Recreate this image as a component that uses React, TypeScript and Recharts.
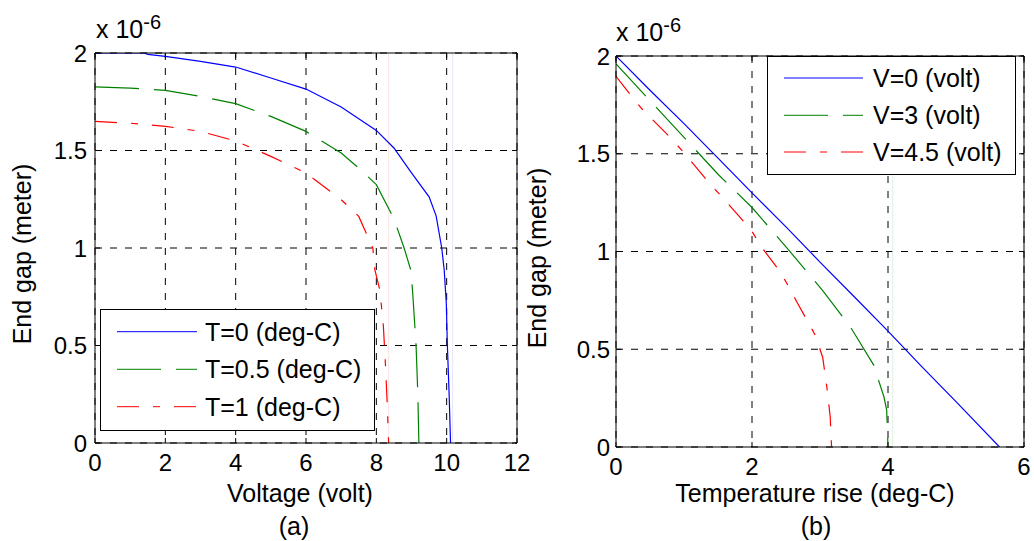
import React from "react";
import { LineChart, Line, XAxis, YAxis, CartesianGrid, Legend, ReferenceLine } from "recharts";

const FONT = "'Liberation Sans', Arial, Helvetica, sans-serif";

// end gap is in units of 1e-6 m on both panels
const gapTicks = [0, 0.5, 1, 1.5, 2];

// (a) end gap vs voltage, one curve per temperature rise
const voltTicks = [0, 2, 4, 6, 8, 10, 12];
const voltT0 = [0, 1.4, 1.5, 2, 3, 4, 5, 6, 7, 8, 8.5, 9, 9.5, 9.7, 9.86, 9.93, 9.99, 10.02, 10.07, 10.11];
const gapT0 = [2.0, 2.0, 1.993, 1.983, 1.957, 1.928, 1.872, 1.815, 1.723, 1.603, 1.513, 1.385, 1.262, 1.165, 1.0, 0.887, 0.715, 0.5, 0.25, 0];
const voltT05 = [0, 1, 2, 3, 4, 5, 6, 7, 7.5, 8, 8.5, 8.79, 8.98, 9.03, 9.13, 9.18, 9.21];
const gapT05 = [1.826, 1.82, 1.808, 1.777, 1.74, 1.675, 1.598, 1.487, 1.41, 1.325, 1.15, 1.0, 0.887, 0.78, 0.5, 0.25, 0];
const voltT1 = [0, 1, 2, 3, 4, 5, 6, 7, 7.5, 7.8, 7.9, 7.96, 8.1, 8.2, 8.26, 8.31, 8.35];
const gapT1 = [1.649, 1.64, 1.624, 1.598, 1.549, 1.47, 1.385, 1.248, 1.162, 1.04, 1.0, 0.887, 0.785, 0.6, 0.4, 0.2, 0];
const faintA = [
  { x: 8.35, color: "#fae4e4" },
  { x: 10.17, color: "#e6e6fa" },
];

// (b) end gap vs temperature rise, one curve per voltage
const tempTicks = [0, 2, 4, 6];
const tempV0 = [0, 0.5, 1, 1.5, 2, 2.5, 3, 3.5, 4, 4.5, 5, 5.64];
const gapV0 = [2.0, 1.825, 1.654, 1.478, 1.3, 1.126, 0.946, 0.77, 0.593, 0.41, 0.232, 0];
const tempV3 = [0, 0.45, 1, 1.5, 2, 2.5, 3.04, 3.44, 3.56, 3.79, 3.86, 3.94, 3.98, 3.99, 4.0];
const gapV3 = [1.96, 1.79, 1.584, 1.395, 1.225, 1.024, 0.8, 0.618, 0.55, 0.419, 0.342, 0.257, 0.19, 0.1, 0];
const tempV45 = [0, 0.2, 0.38, 0.79, 0.99, 1.38, 1.58, 1.99, 2.12, 2.36, 2.5, 2.66, 2.93, 3.04, 3.1, 3.15, 3.17];
const gapV45 = [1.896, 1.807, 1.73, 1.586, 1.509, 1.347, 1.271, 1.109, 1.032, 0.921, 0.845, 0.742, 0.572, 0.458, 0.308, 0.155, 0];
const faintB = [{ x: 4.07, color: "#e2efe2" }];

const pts = (xs: number[], ys: number[]) => xs.map((x, i) => ({ x, y: ys[i] }));

const SOLID = undefined;
const DASH = "44 15";
const DASHDOT = "22 14 7 14";

const seriesA = [
  { name: "T=0 (deg-C)", color: "#0000ff", dash: SOLID, data: pts(voltT0, gapT0) },
  { name: "T=0.5 (deg-C)", color: "#008000", dash: DASH, data: pts(voltT05, gapT05) },
  { name: "T=1 (deg-C)", color: "#ff0000", dash: DASHDOT, data: pts(voltT1, gapT1) },
];
const seriesB = [
  { name: "V=0 (volt)", color: "#0000ff", dash: SOLID, data: pts(tempV0, gapV0) },
  { name: "V=3 (volt)", color: "#008000", dash: DASH, data: pts(tempV3, gapV3) },
  { name: "V=4.5 (volt)", color: "#ff0000", dash: DASHDOT, data: pts(tempV45, gapV45) },
];

type Series = typeof seriesA;

const tickStyle = { fontSize: 24, fill: "#000", fontFamily: FONT };
const noLabel = () => <g />;

function boxLegend(series: Series, w: number, h: number, x1: number, x2: number, tx: number, rows: number[]) {
  return () => (
    <svg width={w} height={h} style={{ display: "block" }}>
      <rect x={0.5} y={0.5} width={w - 1} height={h - 1} fill="#fff" stroke="#000" />
      {series.map((s, i) => (
        <g key={s.name}>
          <line x1={x1} x2={x2} y1={rows[i]} y2={rows[i]} stroke={s.color} strokeDasharray={s.dash} />
          <text x={tx} y={rows[i] + 9} fontSize={25} fontFamily={FONT} fill="#000">
            {s.name}
          </text>
        </g>
      ))}
    </svg>
  );
}

interface PanelProps {
  left: number;
  width: number;
  yAxisWidth: number;
  margin: { top: number; right: number; bottom: number; left: number };
  xTicks: number[];
  series: Series;
  faint: { x: number; color: string }[];
  legendPos: { left: number; top: number; width: number; height: number };
  legend: () => React.ReactElement;
  xTickMargin: number;
  yTickMargin: number;
}

function Panel(p: PanelProps) {
  const xDomain = [p.xTicks[0], p.xTicks[p.xTicks.length - 1]];
  return (
    <div style={{ position: "absolute", left: p.left, top: 0 }}>
      <LineChart width={p.width} height={541} margin={p.margin}>
        <CartesianGrid stroke="#000" strokeDasharray="7 8" strokeWidth={1} />
        <XAxis
          type="number"
          dataKey="x"
          domain={xDomain}
          ticks={p.xTicks}
          interval={0}
          allowDataOverflow
          height={30}
          tickSize={-5}
          tickMargin={p.xTickMargin}
          tick={tickStyle}
          axisLine={{ stroke: "#000" }}
          tickLine={{ stroke: "#000" }}
        />
        <XAxis
          xAxisId="top"
          orientation="top"
          type="number"
          dataKey="x"
          domain={xDomain}
          ticks={p.xTicks}
          interval={0}
          allowDataOverflow
          height={8}
          tickSize={-5}
          tick={noLabel}
          axisLine={{ stroke: "#000" }}
          tickLine={{ stroke: "#000" }}
        />
        <YAxis
          type="number"
          domain={[0, 2]}
          ticks={gapTicks}
          interval={0}
          allowDataOverflow
          width={p.yAxisWidth}
          tickSize={-5}
          tickMargin={p.yTickMargin}
          tick={tickStyle}
          axisLine={{ stroke: "#000" }}
          tickLine={{ stroke: "#000" }}
        />
        <YAxis
          yAxisId="right"
          orientation="right"
          type="number"
          domain={[0, 2]}
          ticks={gapTicks}
          interval={0}
          allowDataOverflow
          width={8}
          tickSize={-5}
          tick={noLabel}
          axisLine={{ stroke: "#000" }}
          tickLine={{ stroke: "#000" }}
        />
        {p.faint.map((f) => (
          <ReferenceLine key={f.x} x={f.x} stroke={f.color} strokeWidth={1} />
        ))}
        {p.series.map((s) => (
          <Line
            key={s.name}
            name={s.name}
            data={s.data}
            dataKey="y"
            type="linear"
            stroke={s.color}
            strokeWidth={1.2}
            strokeDasharray={s.dash}
            dot={false}
            activeDot={false}
            isAnimationActive={false}
          />
        ))}
        <Legend
          layout="vertical"
          align="center"
          verticalAlign="middle"
          content={p.legend}
          wrapperStyle={{ ...p.legendPos, position: "absolute" }}
        />
      </LineChart>
    </div>
  );
}

export default function App() {
  const text = { fontFamily: FONT, fontSize: 25, fill: "#000" };
  return (
    <div style={{ position: "absolute", left: 0, top: 0, width: 1034, height: 541, background: "#fff", fontFamily: FONT }}>
      <Panel
        left={0}
        width={530}
        yAxisWidth={95}
        margin={{ top: 45, right: 5, bottom: 68, left: 0 }}
        xTicks={voltTicks}
        series={seriesA}
        faint={faintA}
        legendPos={{ left: 100, top: 309, width: 275, height: 122 }}
        legend={boxLegend(seriesA, 275, 122, 17, 97, 105, [22.7, 60.3, 97.7])}
        xTickMargin={16}
        yTickMargin={13}
      />
      <Panel
        left={530}
        width={504}
        yAxisWidth={86}
        margin={{ top: 48, right: 2, bottom: 64, left: 0 }}
        xTicks={tempTicks}
        series={seriesB}
        faint={faintB}
        legendPos={{ left: 237, top: 56, width: 249, height: 119 }}
        legend={boxLegend(seriesB, 249, 119, 17, 96, 106, [22, 59.3, 96])}
        xTickMargin={16}
        yTickMargin={11}
      />
      <svg width={1034} height={541} style={{ position: "absolute", left: 0, top: 0, pointerEvents: "none" }}>
        <text {...text} x={96} y={38}>
          x 10<tspan fontSize={20} dy={-9}>-6</tspan>
        </text>
        <text {...text} x={616} y={41}>
          x 10<tspan fontSize={20} dy={-9}>-6</tspan>
        </text>
        <text {...text} textAnchor="middle" transform="translate(31,254) rotate(-90)">End gap (meter)</text>
        <text {...text} textAnchor="middle" transform="translate(546,258) rotate(-90)">End gap (meter)</text>
        <text {...text} textAnchor="middle" x={300} y={502}>Voltage (volt)</text>
        <text {...text} textAnchor="middle" x={294} y={535}>(a)</text>
        <text {...text} textAnchor="middle" x={815} y={502}>Temperature rise (deg-C)</text>
        <text {...text} textAnchor="middle" x={816} y={535}>(b)</text>
      </svg>
    </div>
  );
}
